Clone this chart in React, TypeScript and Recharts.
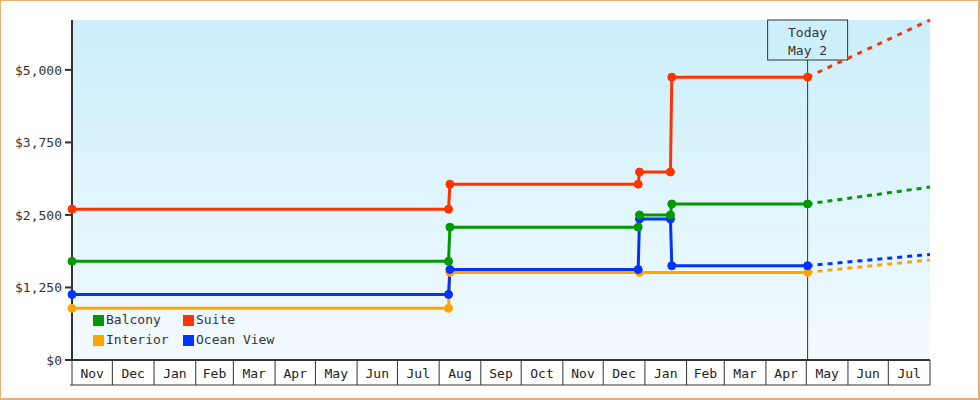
import React from 'react';
import { LineChart, Line, XAxis, YAxis, CartesianGrid, ReferenceLine } from 'recharts';

const FONT = '"DejaVu Sans Mono", "Liberation Mono", monospace';

const monthNames = ['Jan', 'Feb', 'Mar', 'Apr', 'May', 'Jun', 'Jul', 'Aug', 'Sep', 'Oct', 'Nov', 'Dec'];
const axisStart = '2020-11-01';
const axisEnd = '2022-08-01';
const todayDate = '2022-05-02';
const todayLabel = ['Today', 'May 2'];
const priceTicks = [0, 1250, 2500, 3750, 5000];
const priceMax = 5860;

const seriesNames = ['Balcony', 'Suite', 'Interior', 'Ocean View'];
const seriesColors = ['#009900', '#ff3300', '#ffa500', '#0033ff'];

const balconyDates = ['2020-11-01', '2021-08-08', '2021-08-09', '2021-12-27', '2021-12-28', '2022-01-20', '2022-01-21', '2022-05-02'];
const balconyPrices = [1700, 1700, 2290, 2290, 2500, 2500, 2690, 2690];
const balconyForecast = [2690, 2980];

const suiteDates = ['2020-11-01', '2021-08-08', '2021-08-09', '2021-12-27', '2021-12-28', '2022-01-20', '2022-01-21', '2022-05-02'];
const suitePrices = [2600, 2600, 3030, 3030, 3240, 3240, 4875, 4875];
const suiteForecast = [4875, 5860];

const interiorDates = ['2020-11-01', '2021-08-08', '2021-08-09', '2021-12-28', '2022-05-02'];
const interiorPrices = [890, 890, 1510, 1510, 1510];
const interiorForecast = [1510, 1725];

const oceanDates = ['2020-11-01', '2021-08-08', '2021-08-09', '2021-12-27', '2021-12-28', '2022-01-20', '2022-01-21', '2022-05-02'];
const oceanPrices = [1130, 1130, 1560, 1560, 2430, 2430, 1625, 1625];
const oceanForecast = [1625, 1820];

const toTs = (d: string) => Date.parse(d + 'T00:00:00Z');
const startTs = toTs(axisStart);
const endTs = toTs(axisEnd);
const todayTs = toTs(todayDate);

const rows = (dates: string[], prices: number[]) => dates.map((d, i) => ({ t: toTs(d), price: prices[i] }));
const forecastRows = (f: number[]) => [{ t: todayTs, price: f[0] }, { t: endTs, price: f[1] }];

// month boundaries and mid-month label positions
const monthStarts: number[] = [];
{
  const s = new Date(startTs);
  let y = s.getUTCFullYear();
  let m = s.getUTCMonth();
  while (Date.UTC(y, m, 1) <= endTs) {
    monthStarts.push(Date.UTC(y, m, 1));
    m += 1;
    if (m > 11) { m = 0; y += 1; }
  }
}
const monthMids = monthStarts.slice(0, -1).map((v, i) => (v + monthStarts[i + 1]) / 2);
const monthStartSet = new Set(monthStarts);
const xTicks = [...monthStarts, ...monthMids];

const MonthTick = (props: any) => {
  const { x, y, payload, width } = props;
  const v = payload.value;
  if (monthStartSet.has(v)) {
    return (
      <g>
        <line x1={x} x2={x} y1={y} y2={y + 25} stroke="#333" strokeWidth={1} />
        {v === startTs && typeof width === 'number' ? (
          <line x1={x - 2} x2={x + width} y1={y + 25} y2={y + 25} stroke="#333" strokeWidth={1} />
        ) : null}
      </g>
    );
  }
  const m = new Date(v).getUTCMonth();
  return (
    <text x={x} y={y + 18} textAnchor="middle" fontFamily={FONT} fontSize={13} fill="#222">
      {monthNames[m]}
    </text>
  );
};

const TodayBox = (props: any) => {
  const vb = props.viewBox || {};
  const x = vb.x ?? 0;
  const y = vb.y ?? 0;
  return (
    <g>
      <rect x={x - 40} y={y} width={80} height={40} fill="#cdeffc" stroke="#333" strokeWidth={1} />
      <text x={x} y={y + 17} textAnchor="middle" fontFamily={FONT} fontSize={13} fill="#333">{todayLabel[0]}</text>
      <text x={x} y={y + 35} textAnchor="middle" fontFamily={FONT} fontSize={13} fill="#333">{todayLabel[1]}</text>
    </g>
  );
};

const fmtPrice = (v: number) => '$' + v.toLocaleString('en-US');

const series = [
  { key: 'interior', color: seriesColors[2], data: rows(interiorDates, interiorPrices), fc: forecastRows(interiorForecast), dash: '5 5' },
  { key: 'ocean', color: seriesColors[3], data: rows(oceanDates, oceanPrices), fc: forecastRows(oceanForecast), dash: '5 5' },
  { key: 'balcony', color: seriesColors[0], data: rows(balconyDates, balconyPrices), fc: forecastRows(balconyForecast), dash: '5 5' },
  { key: 'suite', color: seriesColors[1], data: rows(suiteDates, suitePrices), fc: forecastRows(suiteForecast), dash: '5 6' },
];

export default function App() {
  return (
    <div style={{ position: 'absolute', left: 0, top: 0, width: 980, height: 400, background: '#fff', fontFamily: FONT }}>
      <LineChart width={980} height={400} margin={{ top: 20, right: 50, bottom: 15, left: 0 }}>
        <defs>
          <linearGradient id="plotBg" x1="0" y1="0" x2="0" y2="1">
            <stop offset="0%" stopColor="#cbeffc" />
            <stop offset="100%" stopColor="#f3faff" />
          </linearGradient>
        </defs>
        <CartesianGrid fill="url(#plotBg)" horizontal={false} vertical={false} />
        <XAxis
          dataKey="t"
          type="number"
          domain={[startTs, endTs]}
          ticks={xTicks}
          interval={0}
          tick={<MonthTick />}
          tickLine={false}
          tickSize={0}
          tickMargin={0}
          height={25}
          axisLine={{ stroke: '#333', strokeWidth: 2 }}
        />
        <YAxis
          type="number"
          domain={[0, priceMax]}
          ticks={priceTicks}
          interval={0}
          tickFormatter={fmtPrice}
          width={72}
          tickSize={7}
          tickMargin={3}
          axisLine={{ stroke: '#333', strokeWidth: 2 }}
          tickLine={{ stroke: '#333', strokeWidth: 2 }}
          tick={{ fill: '#333', fontSize: 13, fontFamily: FONT }}
        />
        <ReferenceLine x={todayTs} stroke="#333" strokeWidth={1} ifOverflow="visible" label={<TodayBox />} />
        {series.map((s) => (
          <Line
            key={s.key + '-fc'}
            data={s.fc}
            dataKey="price"
            type="linear"
            stroke={s.color}
            strokeWidth={3}
            strokeDasharray={s.dash}
            dot={false}
            activeDot={false}
            legendType="none"
            isAnimationActive={false}
          />
        ))}
        {series.map((s) => (
          <Line
            key={s.key}
            data={s.data}
            dataKey="price"
            type="linear"
            stroke={s.color}
            strokeWidth={3}
            dot={{ r: 4, fill: s.color, stroke: s.color, strokeWidth: 1 }}
            activeDot={false}
            isAnimationActive={false}
          />
        ))}
      </LineChart>
      <div style={{ position: 'absolute', left: 93, top: 310, width: 200, display: 'grid', gridTemplateColumns: '90px 110px', pointerEvents: 'none' }}>
        {seriesNames.map((n, i) => (
          <div key={n} style={{ display: 'flex', alignItems: 'center', height: 20 }}>
            <span style={{ display: 'inline-block', width: 11, height: 11, background: seriesColors[i], marginRight: 2 }} />
            <span style={{ fontFamily: FONT, fontSize: 13, color: '#333', lineHeight: '20px', whiteSpace: 'nowrap' }}>{n}</span>
          </div>
        ))}
      </div>
      <div style={{ position: 'absolute', left: 0, top: 0, width: 980, height: 400, boxSizing: 'border-box', borderStyle: 'solid', borderColor: '#e8b070', borderWidth: '1px 2px 2px 1px', pointerEvents: 'none' }} />
    </div>
  );
}
